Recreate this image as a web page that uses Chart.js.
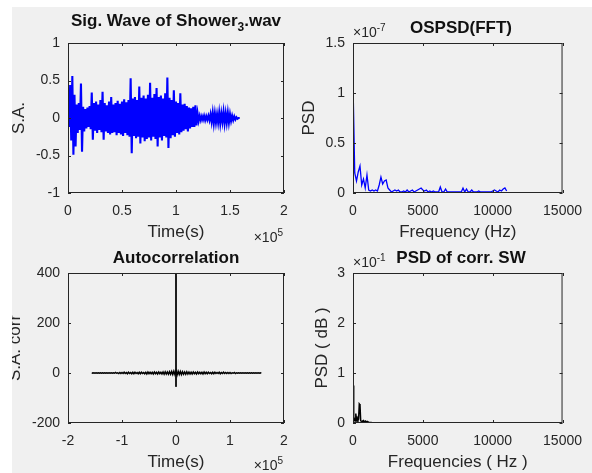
<!DOCTYPE html>
<html>
<head>
<meta charset="utf-8">
<script src="https://cdn.jsdelivr.net/npm/chart.js"></script>
<style>
  html, body { margin: 0; padding: 0; background: #fff; }
  #fig { position: absolute; left: 12px; top: 7px; width: 580px; height: 466px; background: #f0f0f0; overflow: hidden; }
  #fig canvas { position: absolute; left: -12px; top: -7px; }
  .ttl { position: absolute; font: bold 17px "Liberation Sans", Arial, sans-serif; line-height: 17px; color: #111; white-space: nowrap; transform: translateX(-50%); }
  .exp { position: absolute; font: 14px "Liberation Sans", Arial, sans-serif; line-height: 14px; color: #262626; white-space: nowrap; }
  .exp span { font-size: 10px; position: relative; top: -6px; }
</style>
</head>
<body>
<div id="fig">
  <canvas id="c1" width="592" height="473"></canvas>
  <canvas id="c2" width="592" height="473"></canvas>
  <canvas id="c3" width="592" height="473"></canvas>
  <canvas id="c4" width="592" height="473"></canvas>
</div>
<div class="ttl" style="left:176px; top:12px">Sig. Wave of Shower<span style="font-size:12px; position:relative; top:5px">3</span>.wav</div>
<div class="ttl" style="left:461px; top:19px">OSPSD(FFT)</div>
<div class="ttl" style="left:176px; top:249px">Autocorrelation</div>
<div class="ttl" style="left:461px; top:249px">PSD of corr. SW</div>
<div class="exp" style="right:309px; top:230px">&times;10<span>5</span></div>
<div class="exp" style="left:353px; top:25px">&times;10<span>-7</span></div>
<div class="exp" style="right:309px; top:458px">&times;10<span>5</span></div>
<div class="exp" style="left:353px; top:255px">&times;10<span>-1</span></div>
<script>
// signal envelope (max / min) read every 2000 samples
const waveStep = 2000;
const waveHi = [0.15,0.44,0.56,0.31,0.18,0.20,0.46,0.15,0.12,0.14,
                0.16,0.34,0.20,0.22,0.18,0.24,0.35,0.20,0.17,0.22,
                0.28,0.18,0.20,0.23,0.19,0.22,0.25,0.21,0.24,0.53,
                0.26,0.28,0.24,0.42,0.27,0.30,0.26,0.31,0.47,0.27,
                0.32,0.40,0.28,0.30,0.26,0.33,0.54,0.27,0.24,0.37,
                0.22,0.20,0.33,0.18,0.19,0.16,0.14,0.13,0.15,0.17,
                0.06,0.03,0.025,0.03,0.025,0.03,0.05,0.07,0.06,0.05,
                0.07,0.06,0.08,0.06,0.07,0.05,0.03,0.02,0.01,0.0];
const waveLo = [-0.12,-0.30,-0.49,-0.38,-0.20,-0.16,-0.45,-0.18,-0.14,-0.12,
                -0.15,-0.29,-0.17,-0.20,-0.16,-0.19,-0.29,-0.18,-0.20,-0.22,
                -0.20,-0.19,-0.23,-0.20,-0.22,-0.24,-0.20,-0.23,-0.25,-0.47,
                -0.24,-0.27,-0.25,-0.34,-0.26,-0.31,-0.28,-0.26,-0.30,-0.25,
                -0.28,-0.38,-0.26,-0.30,-0.24,-0.26,-0.40,-0.27,-0.23,-0.25,
                -0.20,-0.22,-0.19,-0.17,-0.15,-0.18,-0.14,-0.12,-0.12,-0.10,
                -0.04,-0.03,-0.025,-0.03,-0.025,-0.03,-0.05,-0.07,-0.06,-0.06,
                -0.07,-0.05,-0.07,-0.06,-0.06,-0.04,-0.03,-0.02,-0.01,0];

// one-sided PSD (x 1e-7), every 125 Hz
const psdStep = 125;
const psdVal = [1.10,0.20,0.12,0.21,0.27,0.08,0.14,0.05,0.18,0.03,
                0.02,0.03,0.02,0.03,0.02,0.08,0.16,0.09,0.12,0.13,
                0.05,0.03,0.01,0.02,0.03,0.02,0.03,0.01,0.01,0.02,
                0.01,0.03,0.01,0.02,0.03,0.01,0.02,0.03,0.04,0.05,
                0.03,0.02,0.03,0.01,0.02,0.01,0.02,0.01,0.01,0.01,
                0.06,0.01,0.01,0.04,0.01,0.01,0.01,0.01,0.01,0.01,
                0.01,0.01,0.01,0.05,0.01,0.04,0.01,0.01,0.03,0.01,
                0.01,0.01,0.02,0.01,0.01,0.01,0.01,0.01,0.01,0.01,
                0.02,0.03,0.02,0.01,0.03,0.02,0.04,0.05,0.02];

// autocorrelation envelope, lags -156000..156000 every 4000
const corrStart = -156000, corrStep = 4000;
const corrHi = [1,1,1,1,1,1,1,1,1,1,
                1,2,1,2,2,3,2,3,2,3,
                3,2,3,3,2,3,4,3,3,4,
                3,4,3,4,5,4,5,6,7,8,
                7,6,5,4,5,4,3,4,3,4,
                3,3,4,3,3,2,3,3,2,3,
                2,3,2,2,2,1,2,1,1,1,
                1,1,1,1,1,1,1,1,1];
const corrLo = [-1,-1,-1,-1,-1,-1,-1,-1,-1,-1,
                -1,-1,-2,-2,-2,-2,-3,-2,-3,-3,
                -2,-3,-3,-2,-3,-4,-3,-3,-4,-3,
                -4,-3,-4,-5,-4,-5,-5,-6,-6,-8,
                -6,-6,-5,-5,-4,-4,-4,-3,-4,-3,
                -3,-4,-3,-3,-2,-3,-3,-2,-2,-3,
                -2,-2,-2,-2,-2,-1,-2,-1,-1,-1,
                -1,-1,-1,-1,-1,-1,-1,-1,-1];
const corrPeakLag = [0, 0];
const corrPeakVal = [398, -55];

// PSD of autocorrelation (x 1e-1), every 50 Hz
const cpsdStep = 50;
const cpsdVal = [0.75,0.05,0.08,0.04,0.19,0.06,0.10,0.05,0.08,0.38,
                 0.36,0.05,0.03,0.02,0.04,0.05,0.03,0.02,0.04,0.03,
                 0.02,0.03,0.02,0.01,0.01,0.01,0.01,0.005,0.005,0.005,0.005];

// min/max envelope -> one zigzag line
function zigzag(start, step, hi, lo) {
  const pts = [];
  hi.forEach((h, i) => {
    const x = start + i * step;
    pts.push({x: x, y: h});
    pts.push({x: x + step / 2, y: lo[i]});
  });
  return pts;
}

const FONT = 'Liberation Sans';
const AX = '#262626';

const boxPlugin = {
  id: 'mbox',
  afterDatasetsDraw(chart) {
    const {ctx, chartArea: a} = chart;
    const xs = chart.scales.x, ys = chart.scales.y;
    ctx.save();
    ctx.strokeStyle = AX;
    ctx.lineWidth = 1;
    ctx.strokeRect(a.left + 0.5, a.top + 0.5, a.right - a.left - 1, a.bottom - a.top - 1);
    ctx.beginPath();
    xs.ticks.forEach(t => {
      const p = Math.round(xs.getPixelForValue(t.value)) + 0.5;
      ctx.moveTo(p, a.bottom); ctx.lineTo(p, a.bottom - 3);
      ctx.moveTo(p, a.top); ctx.lineTo(p, a.top + 3);
    });
    ys.ticks.forEach(t => {
      const p = Math.round(ys.getPixelForValue(t.value)) + 0.5;
      ctx.moveTo(a.left, p); ctx.lineTo(a.left + 3, p);
      ctx.moveTo(a.right, p); ctx.lineTo(a.right - 3, p);
    });
    ctx.stroke();
    ctx.restore();
  }
};

function make(id, area, datasets, xs, ys) {
  const W = 592, H = 473, LH = 17 * 1.2;
  new Chart(document.getElementById(id), {
    type: 'line',
    data: {datasets: datasets},
    options: {
      responsive: false,
      animation: false,
      events: [],
      layout: {padding: {
        left: area.yLab - LH / 2, top: area.top,
        right: W - area.right, bottom: H - (area.xLab + LH / 2)
      }},
      plugins: {legend: {display: false}, tooltip: {enabled: false}},
      elements: {point: {radius: 0}, line: {tension: 0}},
      scales: {
        x: {
          type: 'linear', min: xs.min, max: xs.max,
          grid: {display: false, drawTicks: false}, border: {display: false},
          ticks: {stepSize: xs.step, padding: 10, maxRotation: 0, color: AX,
                  font: {family: FONT, size: 14}, callback: xs.cb},
          title: {display: true, text: xs.title, color: AX, padding: 0,
                  font: {family: FONT, size: 17}},
          afterFit: s => { s.height = area.xLab + LH / 2 - area.bottom; }
        },
        y: {
          type: 'linear', min: ys.min, max: ys.max,
          grid: {display: false, drawTicks: false}, border: {display: false},
          ticks: {stepSize: ys.step, padding: 8, color: AX,
                  font: {family: FONT, size: 14}, callback: v => String(v)},
          title: {display: true, text: ys.title, color: AX, padding: 0,
                  font: {family: FONT, size: 17}},
          afterFit: s => { s.width = area.left - (area.yLab - LH / 2); }
        }
      }
    },
    plugins: [boxPlugin]
  });
}

const e5 = v => String(v / 1e5);
const plain = v => String(v);

make('c1', {left: 68, right: 284, top: 43, bottom: 193, yLab: 19, xLab: 232},
  [{data: zigzag(0, waveStep, waveHi, waveLo), borderColor: '#0000ff', borderWidth: 2.1}],
  {min: 0, max: 200000, step: 50000, cb: e5, title: 'Time(s)'},
  {min: -1, max: 1, step: 0.5, title: 'S.A.'});

make('c2', {left: 353, right: 569, top: 43, bottom: 193, yLab: 309, xLab: 232},
  [{data: psdVal.map((v, i) => ({x: i * psdStep, y: v})), borderColor: '#0000ff', borderWidth: 1.3}],
  {min: 0, max: 15000, step: 5000, cb: plain, title: 'Frequency (Hz)'},
  {min: 0, max: 1.5, step: 0.5, title: 'PSD'});

make('c3', {left: 68, right: 284, top: 273, bottom: 423, yLab: 15.5, xLab: 462},
  [{data: zigzag(corrStart, corrStep, corrHi, corrLo), borderColor: '#000', borderWidth: 1.5},
   {data: corrPeakLag.map((x, i) => ({x: x, y: corrPeakVal[i]})), borderColor: '#000', borderWidth: 1}],
  {min: -200000, max: 200000, step: 100000, cb: e5, title: 'Time(s)'},
  {min: -200, max: 400, step: 200, title: 'S.A. corr'});

make('c4', {left: 353, right: 569, top: 273, bottom: 423, yLab: 322.5, xLab: 462},
  [{data: cpsdVal.map((v, i) => ({x: i * cpsdStep, y: v})), borderColor: '#000', borderWidth: 1.5}],
  {min: 0, max: 15000, step: 5000, cb: plain, title: 'Frequencies ( Hz )'},
  {min: 0, max: 3, step: 1, title: 'PSD ( dB )'});
</script>
</body>
</html>
